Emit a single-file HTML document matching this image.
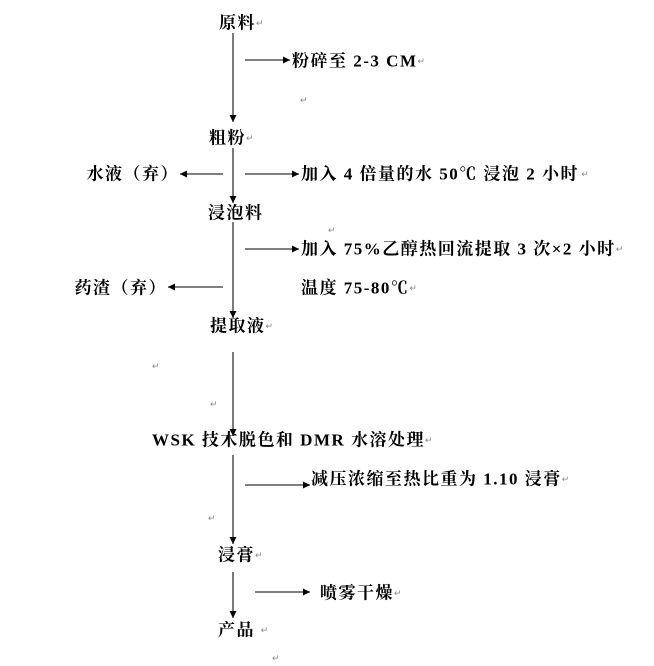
<!DOCTYPE html>
<html><head><meta charset="utf-8"><style>
html,body{margin:0;padding:0;background:#fff;}
svg{display:block}
text{font-family:"Liberation Serif","Noto Serif CJK SC",serif;font-size:17px;font-weight:bold;fill:#000;dominant-baseline:central;letter-spacing:1.5px}
.r{font-size:9px;font-weight:normal;fill:#888;letter-spacing:0}
</style></head><body>
<svg width="654" height="666" viewBox="0 0 654 666" xmlns="http://www.w3.org/2000/svg">
<defs><marker id="a" markerWidth="8" markerHeight="8" refX="7" refY="4" orient="auto" markerUnits="userSpaceOnUse"><path d="M0,0.5 L7,4 L0,7.5z" fill="#000"/></marker></defs>
<g stroke="#333" stroke-width="1.3" fill="none">
<line x1="233" y1="33" x2="233" y2="122" marker-end="url(#a)"/>
<line x1="233" y1="148" x2="233" y2="203" marker-end="url(#a)"/>
<line x1="233" y1="222" x2="233" y2="318" marker-end="url(#a)"/>
<line x1="233" y1="352" x2="233" y2="436" marker-end="url(#a)"/>
<line x1="233" y1="455" x2="233" y2="544" marker-end="url(#a)"/>
<line x1="233" y1="572" x2="233" y2="618" marker-end="url(#a)"/>
<line x1="245" y1="60" x2="290" y2="60" marker-end="url(#a)"/>
<line x1="245" y1="174" x2="299" y2="174" marker-end="url(#a)"/>
<line x1="223" y1="174" x2="180" y2="174" marker-end="url(#a)"/>
<line x1="245" y1="249" x2="299" y2="249" marker-end="url(#a)"/>
<line x1="223" y1="287" x2="168" y2="287" marker-end="url(#a)"/>
<line x1="245" y1="485" x2="310" y2="485" marker-end="url(#a)"/>
<line x1="255" y1="592" x2="310" y2="592" marker-end="url(#a)"/>
</g>
<text x="219" y="23">原料<tspan class="r">↵</tspan></text>
<text x="292" y="61">粉碎至 2-3 CM<tspan class="r">↵</tspan></text>
<text class="r" x="300" y="100">↵</text>
<text x="209" y="138">粗粉<tspan class="r">↵</tspan></text>
<text x="179" y="174" text-anchor="end">水液（弃）</text>
<text x="301" y="174">加入 4 倍量的水 50℃  浸泡 2 小时<tspan class="r"> ↵</tspan></text>
<text x="208" y="213">浸泡料</text>
<text class="r" x="328" y="230">↵</text>
<text x="301" y="249">加入 75%乙醇热回流提取 3 次×2 小时<tspan class="r">↵</tspan></text>
<text x="167" y="288" text-anchor="end">药渣（弃）</text>
<text x="301" y="288">温度 75-80℃<tspan class="r">↵</tspan></text>
<text x="210" y="326">提取液<tspan class="r">↵</tspan></text>
<text class="r" x="152" y="366">↵</text>
<text class="r" x="210" y="404">↵</text>
<text x="152" y="440">WSK 技术脱色和 DMR 水溶处理<tspan class="r">↵</tspan></text>
<text x="311" y="479">减压浓缩至热比重为 1.10 浸膏<tspan class="r">↵</tspan></text>
<text class="r" x="208" y="518">↵</text>
<text x="218" y="555">浸膏<tspan class="r">↵</tspan></text>
<text x="320" y="593">喷雾干燥<tspan class="r">↵</tspan></text>
<text x="218" y="630">产品 <tspan class="r"> ↵</tspan></text>
<text class="r" x="272" y="658">↵</text>
</svg>
</body></html>
